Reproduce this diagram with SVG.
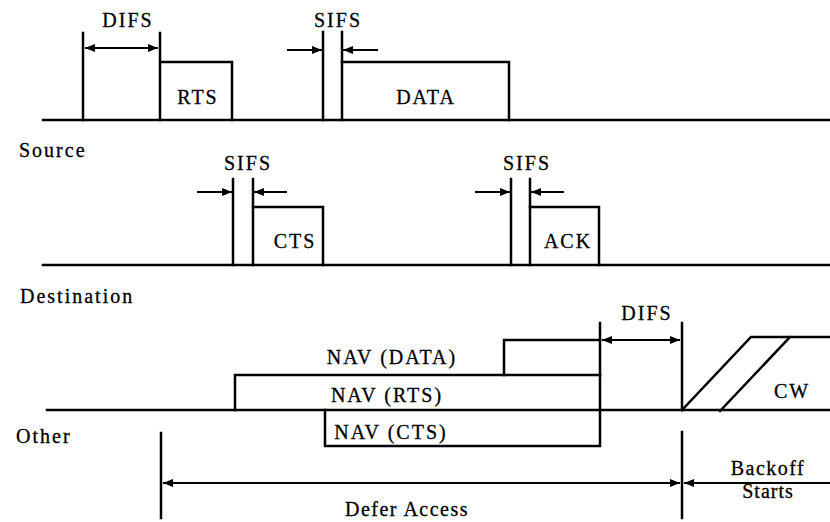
<svg xmlns="http://www.w3.org/2000/svg" width="830" height="522" viewBox="0 0 830 522">
<style>
  .ln{fill:none;stroke:#000;stroke-width:2.5;stroke-linecap:square;stroke-linejoin:miter}
  .ar{fill:none;stroke:#000;stroke-width:2}
  text{font-family:"Liberation Serif","Times New Roman",serif;font-size:20px;fill:#000;letter-spacing:2px;stroke:#000;stroke-width:0.3}
  .m{text-anchor:middle}
</style>
<defs>
  <marker id="ah" viewBox="0 0 10 8" refX="10" refY="4" markerWidth="10" markerHeight="8" markerUnits="userSpaceOnUse" orient="auto-start-reverse">
    <path d="M0,0 L10,4 L0,8 z" fill="#000"/>
  </marker>
</defs>
<rect width="830" height="522" fill="#fff"/>

<g id="baselines">
  <path class="ln" d="M43,120 H830"/>
  <path class="ln" d="M43,265 H830"/>
  <path class="ln" d="M47,410 H830"/>
</g>

<g id="row-labels">
  <text x="19" y="157">Source</text>
  <text x="20" y="303">Destination</text>
  <text x="16" y="443">Other</text>
</g>

<g id="source-difs">
  <path class="ln" d="M83,33 V120"/>
  <text class="m" x="128" y="27">DIFS</text>
</g>
<g id="rts">
  <path class="ln" d="M160,33 V120 M160,62 H232 V120"/>
  <text class="m" x="198" y="104">RTS</text>
</g>
<g id="source-sifs">
  <path class="ln" d="M323,32 V120 M342,32 V120"/>
  <text class="m" x="338" y="27">SIFS</text>
</g>
<g id="data">
  <path class="ln" d="M342,62 H509 V120"/>
  <text class="m" x="426" y="104">DATA</text>
</g>

<g id="dest-sifs-1">
  <path class="ln" d="M233,179 V265 M253,179 V265"/>
  <text class="m" x="248" y="170">SIFS</text>
</g>
<g id="cts">
  <path class="ln" d="M253,207 H323 V265"/>
  <text class="m" x="295" y="248">CTS</text>
</g>
<g id="dest-sifs-2">
  <path class="ln" d="M511,179 V265 M530,179 V265"/>
  <text class="m" x="527" y="170">SIFS</text>
</g>
<g id="ack">
  <path class="ln" d="M530,207 H599 V265"/>
  <text class="m" x="568" y="248">ACK</text>
</g>

<g id="nav-data">
  <path class="ln" d="M504,375 V340 H600"/>
  <text class="m" x="392" y="364">NAV (DATA)</text>
</g>
<g id="nav-rts">
  <path class="ln" d="M235,410 V375 H600"/>
  <text class="m" x="387" y="402">NAV (RTS)</text>
</g>
<g id="nav-cts">
  <path class="ln" d="M325,410 V446 H600 M600,323 V446"/>
  <text class="m" x="391" y="439">NAV (CTS)</text>
</g>
<g id="other-difs">
  <path class="ln" d="M682,323 V410"/>
  <text class="m" x="647" y="320">DIFS</text>
</g>
<g id="cw">
  <path class="ln" d="M682,410 L751,337 H830 M720,411 L790,337"/>
  <text class="m" x="792" y="398">CW</text>
</g>

<g id="defer-access">
  <path class="ln" d="M161,433 V518 M682,432 V518"/>
  <text class="m" x="407" y="516" style="letter-spacing:1.5px">Defer Access</text>
</g>
<g id="backoff">
  <text class="m" x="768" y="475" style="letter-spacing:1.5px">Backoff</text>
  <text class="m" x="768" y="498" style="letter-spacing:1px">Starts</text>
</g>

<g id="connectors">
  <path class="ar" d="M85,48 H158" marker-start="url(#ah)" marker-end="url(#ah)"/>
  <path class="ar" d="M287,50 H322" marker-end="url(#ah)"/>
  <path class="ar" d="M378,50 H343" marker-end="url(#ah)"/>
  <path class="ar" d="M197,192 H232" marker-end="url(#ah)"/>
  <path class="ar" d="M287,192 H254" marker-end="url(#ah)"/>
  <path class="ar" d="M475,192 H510" marker-end="url(#ah)"/>
  <path class="ar" d="M564,192 H531" marker-end="url(#ah)"/>
  <path class="ar" d="M602,340 H680" marker-start="url(#ah)" marker-end="url(#ah)"/>
  <path class="ar" d="M163,483 H680" marker-start="url(#ah)" marker-end="url(#ah)"/>
  <path class="ar" d="M830,483 H684" marker-end="url(#ah)"/>
</g>
</svg>
